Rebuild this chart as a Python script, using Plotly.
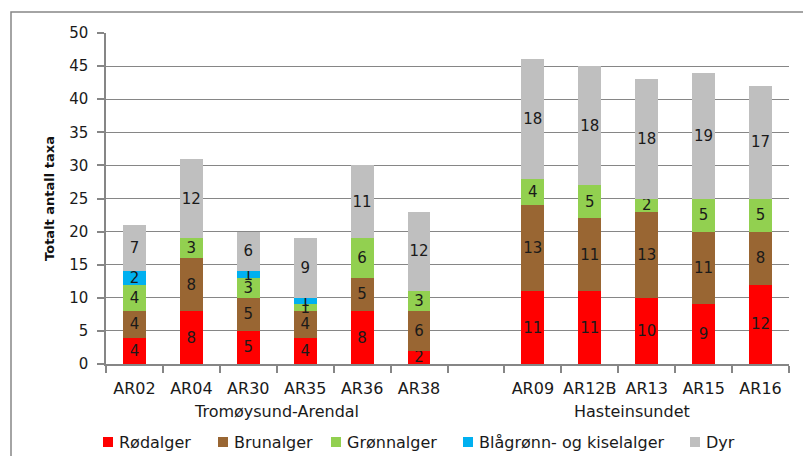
import plotly.graph_objects as go

categories = ["AR02", "AR04", "AR30", "AR35", "AR36", "AR38", " ",
              "AR09", "AR12B", "AR13", "AR15", "AR16"]
rodalger = [4, 8, 5, 4, 8, 2, None, 11, 11, 10, 9, 12]
brunalger = [4, 8, 5, 4, 5, 6, None, 13, 11, 13, 11, 8]
gronnalger = [4, 3, 3, 1, 6, 3, None, 4, 5, 2, 5, 5]
blagronn = [2, None, 1, 1, None, None, None, None, None, None, None, None]
dyr = [7, 12, 6, 9, 11, 12, None, 18, 18, 18, 19, 17]
groups = ["Tromøysund-Arendal", "Hasteinsundet"]

series = [
    ("Rødalger", rodalger, "#FF0000"),
    ("Brunalger", brunalger, "#996633"),
    ("Grønnalger", gronnalger, "#92D050"),
    ("Blågrønn- og kiselalger", blagronn, "#00B0F0"),
    ("Dyr", dyr, "#BFBFBF"),
]

FONT = "DejaVu Sans, Verdana, sans-serif"
TXT = "#1a1a1a"

# plot-area geometry in pixels (for placing the manual legend)
W, H = 803, 456
ML, MR, MT, MB = 106, 14, 33, 92
PW, PH = W - ML - MR, H - MT - MB


def px(xp):
    return (xp - ML) / PW


def py(yp):
    return (H - MB - yp) / PH


fig = go.Figure()
for name, vals, col in series:
    fig.add_trace(go.Bar(
        x=categories, y=vals, name=name,
        marker=dict(color=col, line=dict(width=0)),
        text=[("" if v is None else str(v)) for v in vals],
        textposition="inside", insidetextanchor="middle",
        constraintext="none", textangle=0,
        textfont=dict(family=FONT, size=15, color=TXT),
        hoverinfo="skip", showlegend=False,
    ))

fig.update_layout(
    barmode="stack", bargap=0.6,
    width=W, height=H,
    margin=dict(l=ML, r=MR, t=MT, b=MB, autoexpand=False),
    paper_bgcolor="white", plot_bgcolor="white",
    font=dict(family=FONT, size=15, color=TXT),
    showlegend=False,
    xaxis=dict(
        type="category", categoryorder="array", categoryarray=categories,
        range=[-0.5, 11.5], automargin=False, tickangle=0,
        showline=True, linecolor="#868686", linewidth=1.5,
        ticks="outside", tickson="boundaries", ticklen=7, tickcolor="#868686", tickwidth=1.5,
        ticklabelstandoff=9,
        tickfont=dict(family=FONT, size=16, color=TXT),
        showgrid=False,
    ),
    yaxis=dict(
        range=[0, 50], dtick=5, tick0=0, automargin=False,
        showline=True, linecolor="#868686", linewidth=1.5,
        ticks="outside", ticklen=7, tickcolor="#868686", tickwidth=1.5,
        ticklabelstandoff=6,
        showgrid=True, gridcolor="#868686", gridwidth=1.3,
        zeroline=False,
        tickfont=dict(family=FONT, size=15, color=TXT),
        title=dict(text="<b>Totalt antall taxa</b>", font=dict(family=FONT, size=13, color="#111111"),
                   standoff=12),
    ),
)

# group labels
fig.add_annotation(x=2.5, y=py(411), xref="x", yref="paper", text=groups[0],
                   showarrow=False, yanchor="middle",
                   font=dict(family=FONT, size=16, color=TXT))
fig.add_annotation(x=8.75, y=py(411), xref="x", yref="paper", text=groups[1],
                   showarrow=False, yanchor="middle",
                   font=dict(family=FONT, size=16, color=TXT))

# manual legend (square swatch + label)
legend_x = [103, 218, 331, 463, 690]
legend_y = 442
for (name, _, col), lx in zip(series, legend_x):
    fig.add_shape(type="rect", xref="paper", yref="paper",
                  x0=px(lx), x1=px(lx + 10), y0=py(legend_y + 5), y1=py(legend_y - 5),
                  line=dict(width=0), fillcolor=col)
    fig.add_annotation(x=px(lx + 14), y=py(legend_y), xref="paper", yref="paper",
                       text=name, showarrow=False, xanchor="left", yanchor="middle",
                       font=dict(family=FONT, size=16, color=TXT))

# outer chart border
fig.add_shape(type="rect", xref="paper", yref="paper",
              x0=px(11), x1=px(806), y0=py(470), y1=py(12),
              line=dict(color="#868686", width=1.5), fillcolor="rgba(0,0,0,0)", layer="below")

fig.write_html("out.html", config={"displayModeBar": False},
               post_script="document.body.style.margin='0';")
